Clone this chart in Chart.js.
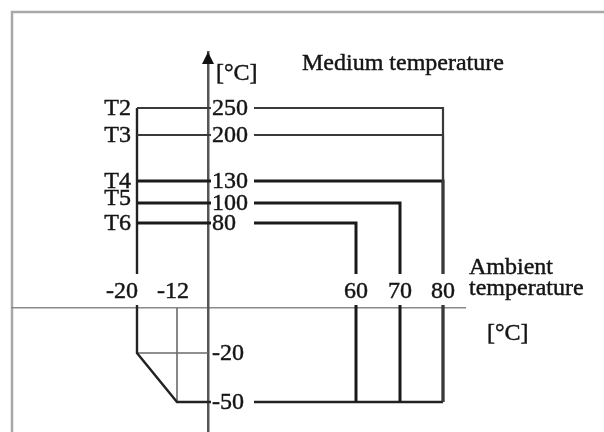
<!DOCTYPE html>
<html>
<head>
<meta charset="utf-8">
<script src="https://cdn.jsdelivr.net/npm/chart.js@4.4.1/dist/chart.umd.min.js"></script>
<style>
  html, body { margin: 0; padding: 0; background: #fff; }
  #wrap { width: 604px; height: 432px; }
</style>
</head>
<body>
<div id="wrap"><canvas id="tempChart"></canvas></div>
<script>
// Temperature classes and limits
const classes = ['T2', 'T3', 'T4', 'T5', 'T6'];
const mediumMax = [250, 200, 130, 100, 80];
const ambientMax = [80, 80, 80, 70, 60];
const ambientMin = -20;
const ambientMinCold = -12;
const mediumMin = -20;
const mediumMinCold = -50;

// Tick labels
const ambientTicks = [-20, -12, 60, 70, 80];
const mediumTicks = [250, 200, 130, 100, 80, -20, -50];

// Schematic axis: piecewise linear between knots [value, offset px from axis start]
class BrokenScale extends Chart.LinearScale {
  getPixelForValue(value) {
    const knots = this.options.knots;
    let i = 1;
    while (i < knots.length - 1 && value > knots[i][0]) i++;
    const [v0, p0] = knots[i - 1];
    const [v1, p1] = knots[i];
    const off = p0 + (value - v0) * (p1 - p0) / (v1 - v0);
    return this.isHorizontal() ? this.left + off : this.top + off;
  }
}
BrokenScale.id = 'broken';
BrokenScale.defaults = {};
Chart.register(BrokenScale);

const ink = '#151515';
const pts = (arr) => arr.map(([x, y]) => ({ x, y }));

const heavy = ['T4', 'T5', 'T6'];
const datasets = classes.map((c, i) => ({
  label: c,
  data: pts([[ambientMin, mediumMax[i]], [ambientMax[i], mediumMax[i]], [ambientMax[i], mediumMinCold]]),
  borderColor: heavy.includes(c) ? '#1a1a1a' : '#3a3a3a',
  borderWidth: heavy.includes(c) ? 3 : 2.2
}));
// lower limit outline
datasets.push({
  label: 'min',
  data: pts([[ambientMin, mediumMax[0]], [ambientMin, mediumMin], [ambientMinCold, mediumMinCold], [ambientMax[0], mediumMinCold]]),
  borderColor: '#222',
  borderWidth: 2.4
});
// helper lines
datasets.push({
  label: 'aux1',
  data: pts([[ambientMin, mediumMin], [0, mediumMin]]),
  borderColor: '#6a6a6a',
  borderWidth: 1.6
});
datasets.push({
  label: 'aux2',
  data: pts([[ambientMinCold, 0], [ambientMinCold, mediumMinCold]]),
  borderColor: '#6a6a6a',
  borderWidth: 1.6
});
datasets.forEach(d => Object.assign(d, { showLine: true, pointRadius: 0, fill: false, tension: 0 }));

const FONT = '24px "Liberation Serif", "Times New Roman", serif';

// text with a faint outline so it reads as heavy as the scanned original
function label(ctx, txt, x, y) {
  ctx.fillText(txt, x, y);
  ctx.strokeText(txt, x, y);
}

const diagramText = {
  id: 'diagramText',
  beforeDraw(chart) {
    const ctx = chart.ctx;
    ctx.save();
    ctx.strokeStyle = '#a8a8a8';
    ctx.lineWidth = 2.5;
    ctx.beginPath();
    ctx.moveTo(12, chart.height);
    ctx.lineTo(12, 12);
    ctx.lineTo(chart.width, 12);
    ctx.stroke();
    ctx.restore();
  },
  afterDraw(chart) {
    const { ctx, chartArea } = chart;
    const xs = chart.scales.x, ys = chart.scales.y;
    const x0 = xs.getPixelForValue(0), y0 = ys.getPixelForValue(0);
    ctx.save();
    ctx.font = FONT;
    ctx.strokeStyle = ink;
    ctx.lineWidth = 0.45;

    // arrow head on the medium temperature axis
    ctx.fillStyle = '#111';
    ctx.beginPath();
    ctx.moveTo(x0, chartArea.top);
    ctx.lineTo(x0 - 6, chartArea.top + 12);
    ctx.lineTo(x0 + 6, chartArea.top + 12);
    ctx.closePath();
    ctx.fill();

    // medium temperature ticks
    ctx.textBaseline = 'middle';
    mediumTicks.forEach(v => {
      const py = ys.getPixelForValue(v);
      ctx.fillStyle = '#fff';
      ctx.fillRect(x0 + 3, py - 9, 43, 18);
      ctx.fillStyle = ink;
      ctx.textAlign = 'left';
      label(ctx, String(v), x0 + 4, py + 1);
    });

    // ambient temperature ticks
    ambientTicks.forEach(v => {
      const px = xs.getPixelForValue(v);
      const txt = String(v);
      const w = ctx.measureText(txt).width;
      let cx = px;
      if (v === ambientMin) cx = px + 1 - w / 2;
      else if (v < 0) cx = px - 4;
      ctx.fillStyle = '#fff';
      ctx.fillRect(cx - w / 2 - 3, y0 - 34, w + 6, 31);
      ctx.fillStyle = ink;
      ctx.textAlign = 'center';
      label(ctx, txt, cx, y0 - 16);
    });

    // class labels
    ctx.textAlign = 'right';
    const tx = xs.getPixelForValue(ambientMin) - 6;
    classes.forEach((c, i) => {
      const nudge = c === 'T5' ? -5 : 0;
      label(ctx, c, tx, ys.getPixelForValue(mediumMax[i]) + 1 + nudge);
    });

    // axis titles
    ctx.textAlign = 'left';
    ctx.textBaseline = 'alphabetic';
    label(ctx, '[°C]', x0 + 8, chartArea.top + 28);
    label(ctx, 'Medium temperature', x0 + 94, chartArea.top + 18);
    label(ctx, 'Ambient', chartArea.right + 4, y0 - 34);
    label(ctx, 'temperature', chartArea.right + 4, y0 - 13);
    label(ctx, '[°C]', chartArea.right + 22, y0 + 32);
    ctx.restore();
  }
};

const ctx = document.getElementById('tempChart').getContext('2d');
new Chart(ctx, {
  type: 'scatter',
  data: { datasets },
  options: {
    responsive: true,
    maintainAspectRatio: false,
    animation: false,
    events: [],
    layout: { padding: { left: 12, right: 139, top: 52, bottom: 0 } },
    scales: {
      x: {
        type: 'broken',
        min: -50, max: 100,
        knots: [[-20, 125], [-12, 165], [0, 196], [60, 344], [70, 388], [80, 431]],
        position: { y: 0 },
        grid: { display: false },
        ticks: { display: false },
        border: { display: true, color: '#8a8a8a', width: 1.6 }
      },
      y: {
        type: 'broken',
        min: -100, max: 300,
        knots: [[-50, 350], [-20, 301], [0, 256], [80, 171], [100, 151], [130, 129], [200, 83], [250, 56]],
        position: { x: 0 },
        grid: { display: false },
        ticks: { display: false },
        border: { display: true, color: '#555', width: 2.5 }
      }
    },
    plugins: {
      legend: { display: false },
      tooltip: { enabled: false }
    }
  },
  plugins: [diagramText]
});
</script>
</body>
</html>
